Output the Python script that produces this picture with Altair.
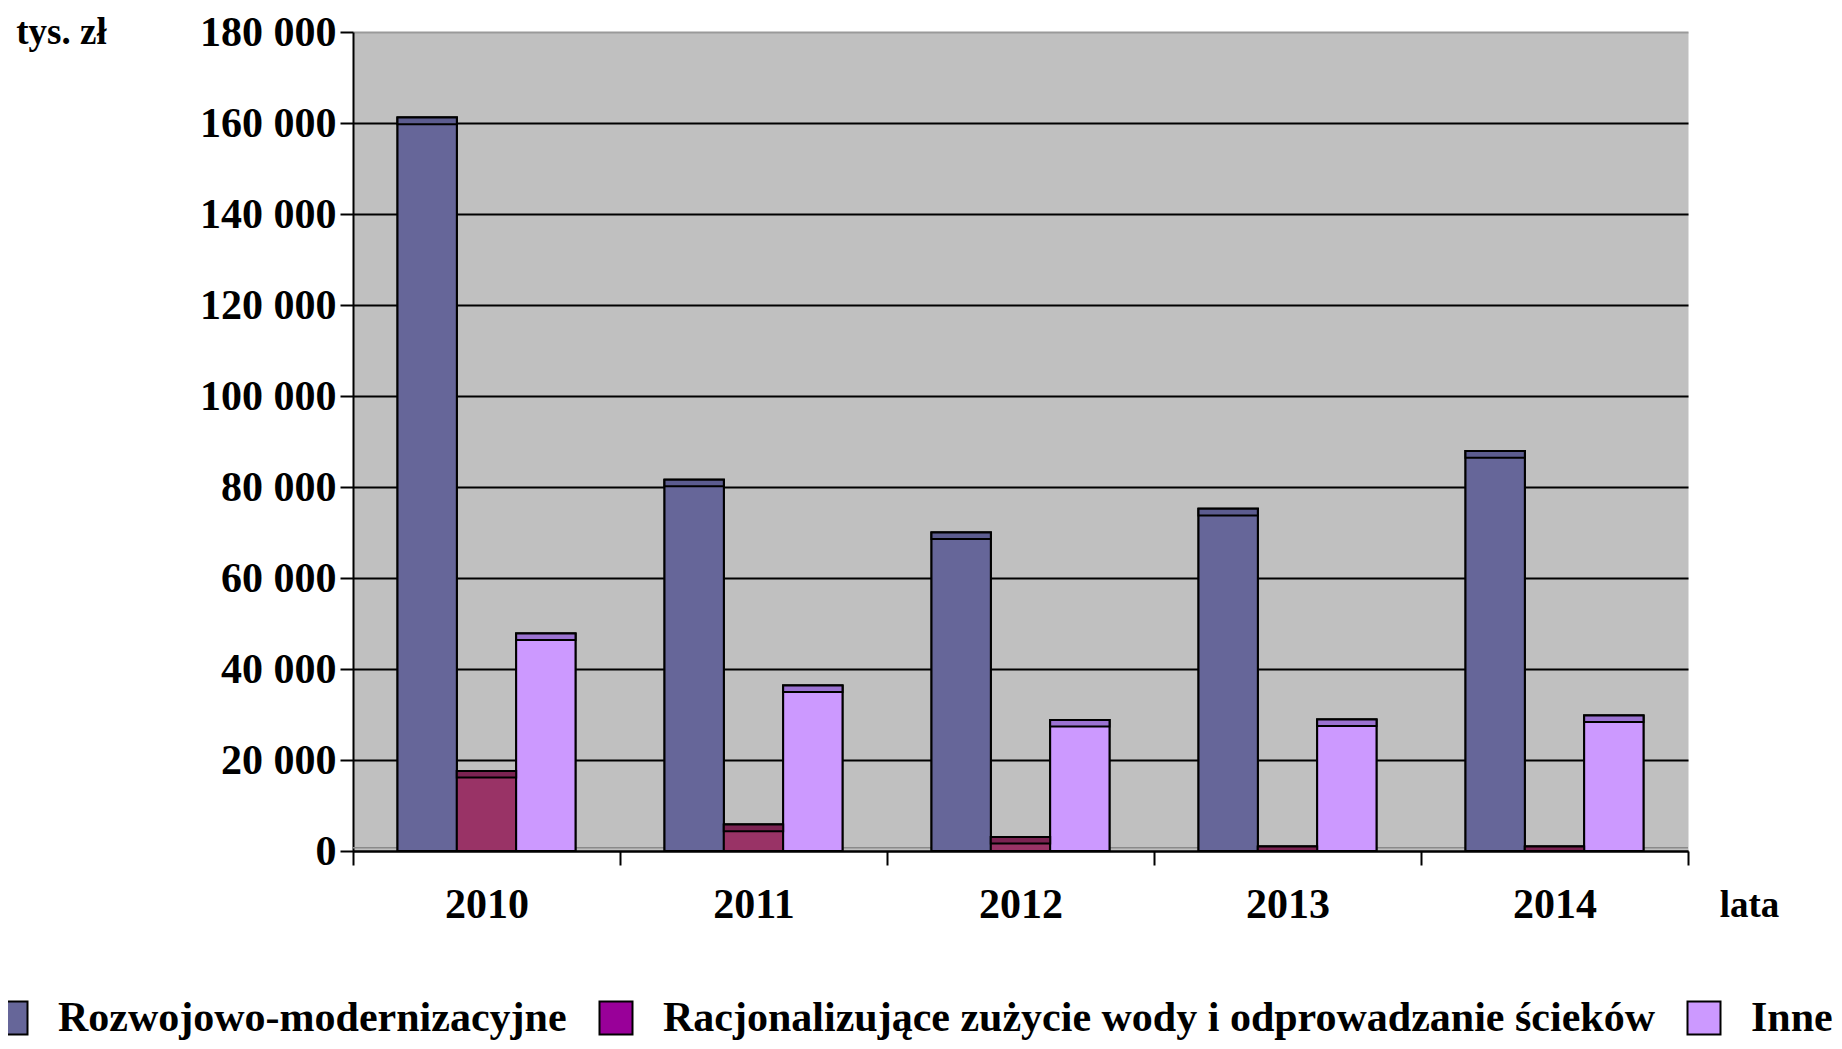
import altair as alt
import pandas as pd

# ---- data (tys. zł) ----
years = ["2010", "2011", "2012", "2013", "2014"]
series = [
    "Rozwojowo-modernizacyjne",
    "Racjonalizujące zużycie wody i odprowadzanie ścieków",
    "Inne",
]
rozwojowe = [161200, 81600, 70000, 75200, 87900]
racjonalizujace = [17600, 5800, 3100, 1000, 1000]
inne = [47800, 36400, 28800, 28900, 29800]
y_ticks = [0, 20000, 40000, 60000, 80000, 100000, 120000, 140000, 160000, 180000]
floor_level = [700]

bar_colors = ["#666699", "#993366", "#CC99FF"]
legend_colors = ["#666699", "#990099", "#CC99FF"]
cap_colors = ["#5c5c8f", "#7b2352", "#9b72d1"]

rows = []
for i, yr in enumerate(years):
    for s, vals in zip(series, [rozwojowe, racjonalizujace, inne]):
        rows.append({"rok": yr, "seria": s, "wartosc": vals[i]})
df = pd.DataFrame(rows)
floor_df = pd.DataFrame({"wartosc": floor_level})

FONT = "Liberation Serif"

x_enc = alt.X(
    "rok:N",
    sort=years,
    title="lata",
    scale=alt.Scale(paddingInner=0, paddingOuter=0),
    axis=alt.Axis(
        labelAngle=0,
        tickBand="extent",
        tickSize=14,
        tickWidth=2,
        tickColor="black",
        domainColor="black",
        domainWidth=2,
        grid=False,
        labelFont=FONT,
        labelFontSize=42,
        labelFontWeight="bold",
        labelColor="black",
        labelPadding=19,
        titleFont=FONT,
        titleFontSize=37,
        titleFontWeight="bold",
        titleColor="black",
        titleX=1396,
        titleY=54,
        titleAlign="center",
        titleBaseline="middle",
    ),
)
xoff_enc = alt.XOffset(
    "seria:N",
    sort=series,
    scale=alt.Scale(domain=series, paddingInner=0, paddingOuter=0.75),
)
y_axis = alt.Axis(
    values=y_ticks,
    labelExpr="replace(format(datum.value, ','), regexp(',', 'g'), ' ')",
    labelFont=FONT,
    labelFontSize=42,
    labelFontWeight="bold",
    labelColor="black",
    labelPadding=4,
    tickSize=13,
    tickWidth=2,
    tickColor="black",
    domainColor="black",
    domainWidth=2,
    grid=True,
    gridColor={"condition": {"test": "datum.value === 180000", "value": "#9a9a9a"}, "value": "black"},
    gridWidth=2,
    titleFont=FONT,
    titleFontSize=37,
    titleFontWeight="bold",
    titleColor="black",
    titleAngle=0,
    titleX=-292,
    titleY=0,
    titleAlign="center",
    titleBaseline="middle",
)
y_scale = alt.Scale(domain=[0, 180000], nice=False)


def y_enc(field):
    return alt.Y(field, scale=y_scale, axis=y_axis, title="tys. zł")


floor = (
    alt.Chart(floor_df)
    .mark_rule(color="#8a8a8a", strokeWidth=1.5)
    .encode(y=y_enc("wartosc:Q"))
)

base = alt.Chart(df).encode(x=x_enc, xOffset=xoff_enc)

legend_layer = base.mark_bar(stroke="black", strokeWidth=2).encode(
    y=y_enc("wartosc:Q"),
    color=alt.Color(
        "seria:N",
        scale=alt.Scale(domain=series, range=legend_colors),
        legend=alt.Legend(
            title=None,
            orient="none",
            legendX=-363,
            legendY=965,
            direction="horizontal",
            padding=0,
            labelFont=FONT,
            labelFontSize=42,
            labelFontWeight="bold",
            labelColor="black",
            labelLimit=3000,
            labelOffset=26,
            columnPadding=28,
            symbolType="square",
            symbolSize=1089,
            symbolStrokeColor="black",
            symbolStrokeWidth=2,
            symbolOpacity=1,
        ),
    ),
)

bars = base.mark_bar(stroke="black", strokeWidth=2).encode(
    y=y_enc("wartosc:Q"),
    fill=alt.Fill("seria:N", scale=alt.Scale(domain=series, range=bar_colors), legend=None),
)

caps = (
    base.transform_calculate(cap_lo="max(0, datum.wartosc - 1450)")
    .mark_bar(stroke="black", strokeWidth=2)
    .encode(
        y=y_enc("wartosc:Q"),
        y2="cap_lo:Q",
        fill=alt.Fill("seria:N", scale=alt.Scale(domain=series, range=cap_colors), legend=None),
    )
)

chart = (
    alt.layer(floor, legend_layer, bars, caps)
    .resolve_scale(fill="independent")
    .properties(
        width=1335,
        height=819,
        autosize=alt.AutoSizeParams(type="none"),
        padding={"left": 345, "top": 24, "right": 146, "bottom": 190},
        background="white",
    )
    .configure_view(fill="#c0c0c0", stroke="transparent")
)

chart.save("out.html", embed_options={"renderer": "svg", "actions": False})
